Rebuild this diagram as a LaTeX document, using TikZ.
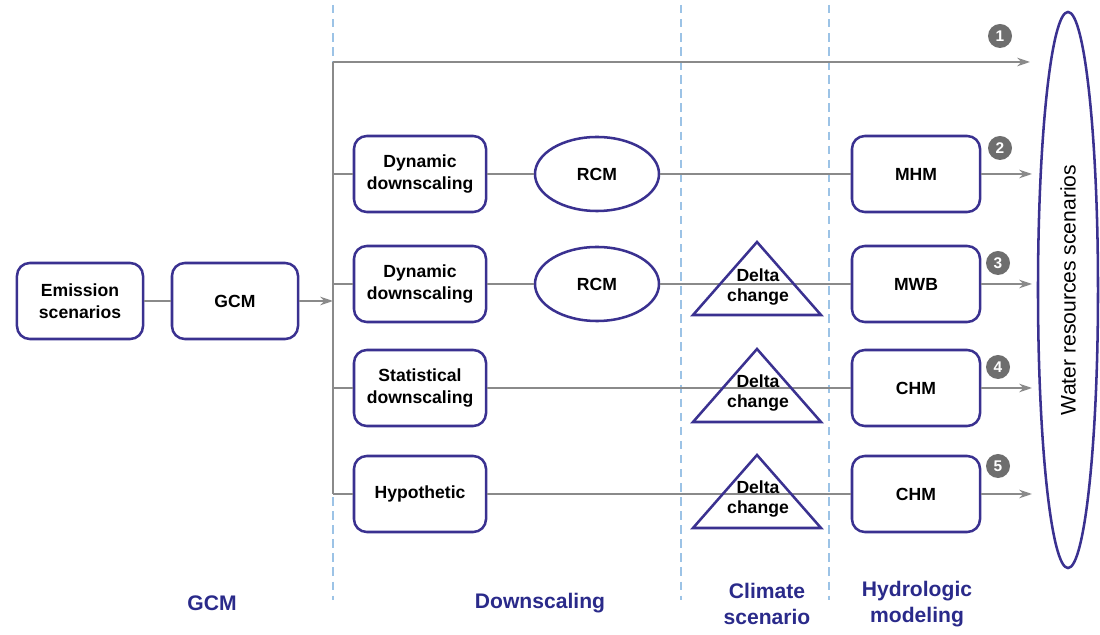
\documentclass[tikz,border=0pt]{standalone}
\usepackage{fontspec}
\setmainfont{Liberation Sans}
\usetikzlibrary{shapes.geometric,arrows.meta,calc}
\definecolor{boxc}{HTML}{3A3190}
\definecolor{labc}{HTML}{2A2A8A}
\definecolor{linec}{HTML}{8A8A8A}
\definecolor{dashc}{HTML}{9CC3E6}
\definecolor{numc}{HTML}{6E6E6E}
\begin{document}
\begin{tikzpicture}[x=0.025cm,y=-0.025cm,
  box/.style={draw=boxc,line width=1.8pt,rounded corners=0.32cm,fill=white,
    minimum width=3.3cm,minimum height=1.9cm,align=center,
    font=\fontsize{12.5}{15.5}\selectfont\bfseries,inner sep=1pt},
  oval/.style={draw=boxc,line width=1.8pt,ellipse,fill=white,
    minimum width=3.1cm,minimum height=1.85cm,
    font=\fontsize{12.5}{15}\selectfont\bfseries,inner sep=1pt},
  tri/.style={draw=boxc,line width=1.8pt,line join=miter},
  tritext/.style={align=center,font=\fontsize{12.5}{14.5}\selectfont\bfseries,inner sep=0pt},
  conn/.style={draw=linec,line width=1.4pt},
  arr/.style={conn,-{Stealth[length=9pt,width=6pt]}},
  sep/.style={draw=dashc,line width=1.1pt,dash pattern=on 6pt off 4pt},
  num/.style={circle,fill=numc,text=white,inner sep=0pt,minimum size=0.6cm,
    font=\fontsize{11}{11}\selectfont\bfseries},
  lab/.style={text=labc,align=center,font=\fontsize{15}{19}\selectfont\bfseries}
]
\useasboundingbox (0,0) rectangle (1100,635);
% separators
\draw[sep] (333,5) -- (333,600);
\draw[sep] (681,5) -- (681,600);
\draw[sep] (829,5) -- (829,600);

% trunk coordinates
\coordinate (j1) at (333,62);
\coordinate (jm) at (333,301);
\coordinate (j2) at (333,174);
\coordinate (j3) at (333,284);
\coordinate (j4) at (333,388);
\coordinate (j5) at (333,494);
\coordinate (e1) at (1030,62);
\coordinate (e2) at (1032,174);
\coordinate (e3) at (1032,284);
\coordinate (e4) at (1032,388);
\coordinate (e5) at (1032,494);

% nodes
\node[box,minimum width=3.15cm] (es) at (80,301) {Emission\\scenarios};
\node[box,minimum width=3.15cm] (gcm) at (235,301) {GCM};

\node[box] (dd2) at (420,174) {Dynamic\\downscaling};
\node[oval] (rcm2) at (597,174) {RCM};
\node[box,minimum width=3.2cm] (mhm) at (916,174) {MHM};

\node[box] (dd3) at (420,284) {Dynamic\\downscaling};
\node[oval] (rcm3) at (597,284) {RCM};
\node[box,minimum width=3.2cm] (mwb) at (916,284) {MWB};

\node[box] (sd4) at (420,388) {Statistical\\downscaling};
\node[box,minimum width=3.2cm] (chm4) at (916,388) {CHM};

\node[box] (hy5) at (420,494) {Hypothetic};
\node[box,minimum width=3.2cm] (chm5) at (916,494) {CHM};

% connectors
\draw[conn] (es) -- (gcm);
\draw[arr] (gcm) -- (jm);
\draw[conn] (j1) -- (j5);
\draw[arr] (j1) -- (e1);
\draw[conn] (j2) -- (dd2);
\draw[conn] (dd2) -- (rcm2);
\draw[conn] (rcm2) -- (mhm);
\draw[arr] (mhm) -- (e2);
\draw[conn] (j3) -- (dd3);
\draw[conn] (dd3) -- (rcm3);
\draw[conn] (rcm3) -- (mwb);
\draw[arr] (mwb) -- (e3);
\draw[conn] (j4) -- (sd4);
\draw[conn] (sd4) -- (chm4);
\draw[arr] (chm4) -- (e4);
\draw[conn] (j5) -- (hy5);
\draw[conn] (hy5) -- (chm5);
\draw[arr] (chm5) -- (e5);

% delta change triangles
\draw[tri] (757,242) -- (821,315) -- (693,315) -- cycle;
\node[tritext] (dc3) at (758,287) {Delta\\change};
\draw[tri] (757,349) -- (821,422) -- (693,422) -- cycle;
\node[tritext] (dc4) at (758,393) {Delta\\change};
\draw[tri] (757,455) -- (821,528) -- (693,528) -- cycle;
\node[tritext] (dc5) at (758,499) {Delta\\change};

% numbers
\node[num] (n1) at (1000,36) {1};
\node[num] (n2) at (1000,148) {2};
\node[num] (n3) at (998,263) {3};
\node[num] (n4) at (998,367) {4};
\node[num] (n5) at (998,466) {5};

% water resources
\node[draw=boxc,line width=1.8pt,ellipse,minimum width=1.5cm,minimum height=13.9cm,inner sep=0pt] (wr) at (1068,290) {};
\node[rotate=90,font=\fontsize{15}{15}\selectfont] (wrt) at (wr.center) {Water resources scenarios};

% bottom labels
\node[lab] (l1) at (212,603) {GCM};
\node[lab] (l2) at (540,603) {Downscaling};
\node[lab] (l3) at (767,604) {Climate\\scenario};
\node[lab] (l4) at (917,604) {Hydrologic\\modeling};
\end{tikzpicture}
\end{document}
